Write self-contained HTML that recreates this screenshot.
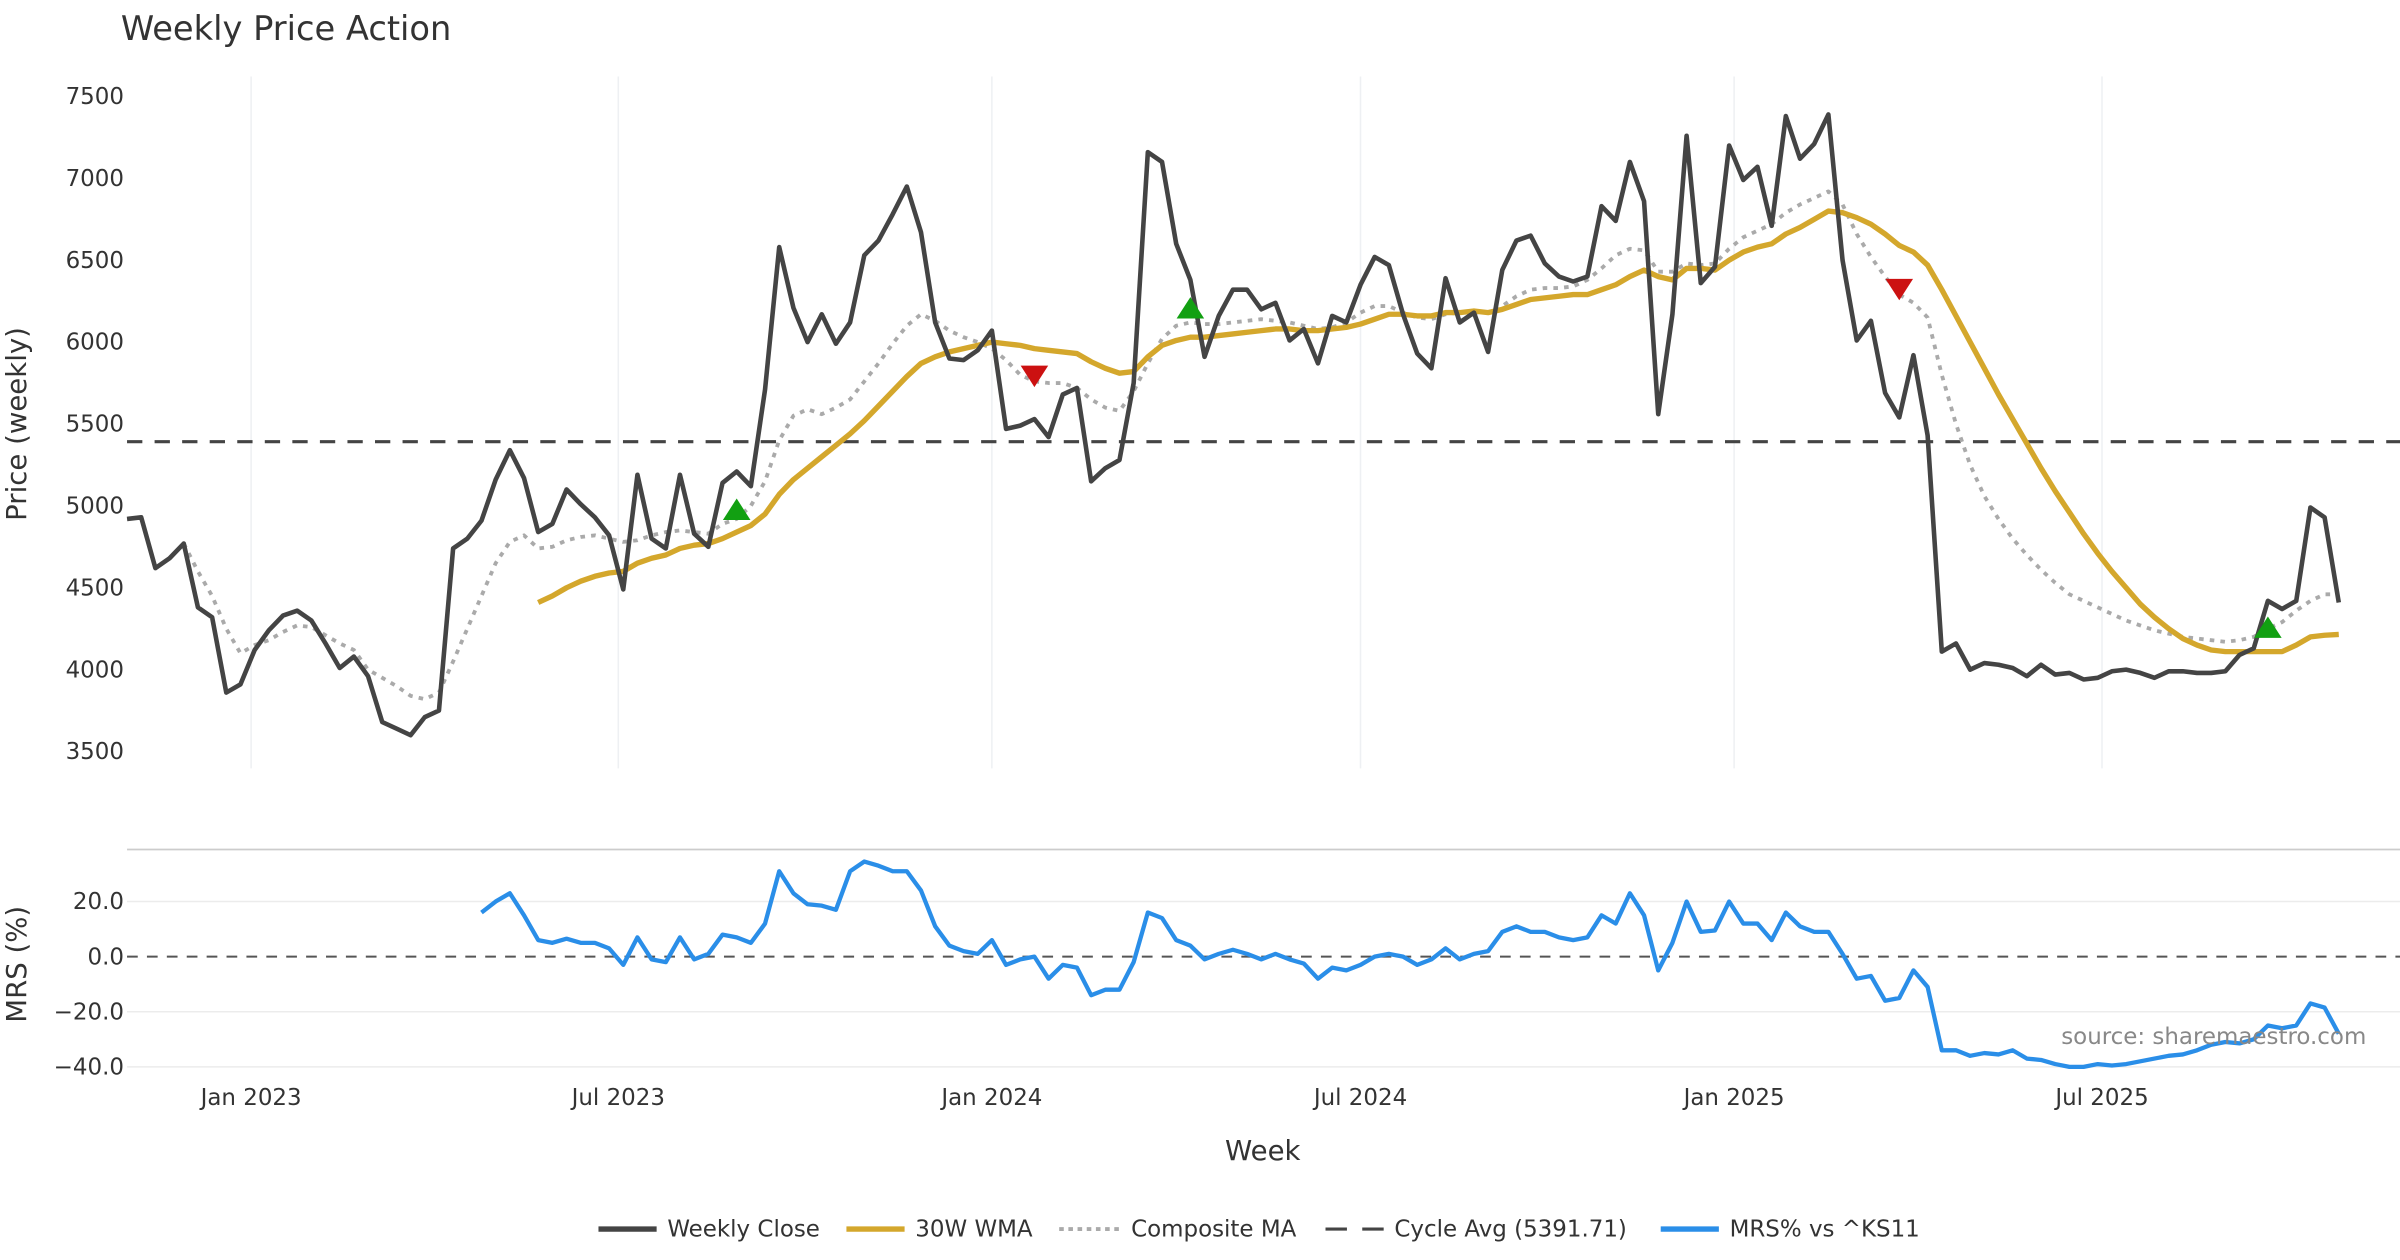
<!DOCTYPE html>
<html><head><meta charset="utf-8"><style>
html,body{margin:0;padding:0;background:#fff}
svg{display:block;font-family:"DejaVu Sans","Liberation Sans",sans-serif}
</style></head><body>
<svg id="chart" width="2400" height="1260" viewBox="0 0 1568 823.2" xmlns="http://www.w3.org/2000/svg">
<text x="79" y="26" font-size="22" fill="#333">Weekly Price Action</text>
<g id="grid"></g><g id="series"></g><g id="axes"></g>
<text transform="translate(17,277) rotate(-90)" text-anchor="middle" font-size="18" fill="#333">Price (weekly)</text>
<text transform="translate(17,630) rotate(-90)" text-anchor="middle" font-size="18" fill="#333">MRS (%)</text>
<text x="825" y="758" text-anchor="middle" font-size="18" fill="#333">Week</text>
<text x="1546" y="682" text-anchor="end" font-size="15" fill="#888">source: sharemaestro.com</text>
<g font-size="15" fill="#333">
<g><line x1="391" y1="803" x2="429" y2="803" stroke="#444" stroke-width="3.5"/><text x="436" y="808">Weekly Close</text></g>
<g><line x1="553" y1="803" x2="591" y2="803" stroke="#d4a72c" stroke-width="3.5"/><text x="598" y="808">30W WMA</text></g>
<g><line x1="692" y1="803" x2="731" y2="803" stroke="#aaa" stroke-width="2.5" stroke-dasharray="3,3"/><text x="739" y="808">Composite MA</text></g>
<g><line x1="866" y1="803" x2="904" y2="803" stroke="#444" stroke-width="2" stroke-dasharray="14,10"/><text x="911" y="808">Cycle Avg (5391.71)</text></g>
<g><line x1="1085" y1="803" x2="1123" y2="803" stroke="#2a8ee8" stroke-width="3.5"/><text x="1130" y="808">MRS% vs ^KS11</text></g>
</g>
</svg>
<script>
const closeVals=[4920,4930,4620,4680,4770,4380,4320,3860,3910,4120,4240,4330,4360,4300,4160,4010,4080,3960,3680,3640,3600,3710,3750,4740,4800,4910,5160,5340,5170,4840,4890,5100,5010,4930,4820,4490,5190,4800,4740,5190,4830,4750,5140,5210,5120,5710,6580,6210,6000,6170,5990,6120,6530,6620,6780,6950,6670,6120,5900,5890,5950,6070,5470,5490,5530,5420,5680,5720,5150,5230,5280,5750,7160,7100,6600,6380,5910,6160,6320,6320,6200,6240,6010,6080,5870,6160,6120,6350,6520,6470,6170,5930,5840,6390,6120,6180,5940,6440,6620,6650,6480,6400,6370,6400,6830,6740,7100,6860,5560,6170,7260,6360,6460,7200,6990,7070,6710,7380,7120,7210,7390,6500,6010,6130,5690,5540,5920,5430,4110,4160,4000,4040,4030,4010,3960,4030,3970,3980,3940,3950,3990,4000,3980,3950,3990,3990,3980,3980,3990,4090,4130,4420,4370,4420,4990,4930,4410];
const wmaStart=29;
const wmaVals=[4410,4450,4500,4540,4570,4590,4600,4650,4680,4700,4740,4760,4770,4800,4840,4880,4950,5070,5160,5230,5300,5370,5440,5520,5610,5700,5790,5870,5910,5940,5960,5980,6000,5990,5980,5960,5950,5940,5930,5880,5840,5810,5820,5910,5980,6010,6030,6030,6040,6050,6060,6070,6080,6080,6070,6070,6080,6090,6110,6140,6170,6170,6160,6160,6180,6180,6190,6180,6200,6230,6260,6270,6280,6290,6290,6320,6350,6400,6440,6400,6380,6450,6450,6440,6500,6550,6580,6600,6660,6700,6750,6800,6790,6760,6720,6660,6590,6550,6470,6320,6160,6000,5840,5680,5530,5380,5230,5090,4960,4830,4710,4600,4500,4400,4320,4250,4190,4150,4120,4110,4110,4110,4110,4110,4150,4200,4210,4215];
const compStart=4;
const compVals=[4770,4600,4450,4250,4100,4150,4180,4230,4270,4260,4210,4160,4120,4000,3950,3900,3840,3820,3860,4050,4250,4450,4650,4780,4820,4740,4750,4790,4810,4820,4800,4780,4790,4820,4840,4850,4840,4830,4890,4920,5000,5150,5400,5550,5590,5560,5600,5650,5760,5870,5990,6100,6170,6130,6070,6030,6000,5960,5890,5800,5760,5750,5750,5720,5650,5600,5580,5700,5870,6020,6100,6120,6110,6110,6120,6130,6140,6130,6120,6100,6080,6090,6120,6180,6220,6220,6180,6150,6140,6170,6180,6180,6180,6220,6280,6320,6330,6330,6340,6380,6450,6530,6570,6560,6430,6430,6480,6470,6480,6570,6640,6680,6720,6790,6840,6880,6920,6840,6660,6520,6400,6290,6240,6150,5800,5500,5250,5060,4920,4800,4700,4610,4530,4460,4420,4380,4340,4300,4270,4240,4220,4200,4190,4180,4170,4180,4200,4250,4290,4360,4420,4460,4460];
const mrsStart=25;
const mrsVals=[16,20,23,15,6,5,6.5,5,5,3,-3,7,-1,-2,7,-1,1,8,7,5,12,31,23,19,18.5,17,31,34.5,33,31,31,24,11,4,2,1,6,-3,-1,0,-8,-3,-4,-14,-12,-12,-2,16,14,6,4,-1,1,2.5,1,-1,1,-1,-2.5,-8,-4,-5,-3,0,1,0,-3,-1,3,-1,1,2,9,11,9,9,7,6,7,15,12,23,15,-5,5,20,9,9.5,20,12,12,6,16,11,9,9,1,-8,-7,-16,-15,-5,-11,-34,-34,-36,-35,-35.5,-34,-37,-37.5,-39,-40,-40,-39,-39.5,-39,-38,-37,-36,-35.5,-34,-32,-31,-31.5,-30,-25,-26,-25,-17,-18.5,-28];
const cycleAvg=5391.71;
const buyIdx=[43,75,151];const buyVals=[4970,6200,4250];
const sellIdx=[64,125];const sellVals=[5800,6330];
const priceTicks=[7500,7000,6500,6000,5500,5000,4500,4000,3500];
const mrsTicks=[20,0,-20,-40];
const dateTicks=["Jan 2023","Jul 2023","Jan 2024","Jul 2024","Jan 2025","Jul 2025"];
const dateTickWeeks=[8.75,34.65,61.0,87.0,113.35,139.3];

const NS="http://www.w3.org/2000/svg";
const X0=83,X1=1528,N=closeVals.length;
const xS=i=>X0+i*(X1-X0)/(N-1);
const yP=v=>63+(7500-v)*53.5/500;
const yM=v=>625-v*1.8;
function mk(tag,attrs,parent){const e=document.createElementNS(NS,tag);for(const k in attrs)e.setAttribute(k,attrs[k]);parent.appendChild(e);return e;}
const grid=document.getElementById('grid'),ser=document.getElementById('series'),ax=document.getElementById('axes');

dateTickWeeks.forEach((w,k)=>{
  const x=xS(w);
  const g=mk('line',{x1:x,y1:50,x2:x,y2:502,stroke:'#eef0f3','stroke-width':1},grid);
  
  
  const t=mk('text',{x:x,y:722,'text-anchor':'middle','font-size':15,fill:'#333'},ax);
  t.textContent=dateTicks[k];
  
  
});
priceTicks.forEach(v=>{
  const t=mk('text',{x:81,y:yP(v)+5,'text-anchor':'end','font-size':15,fill:'#333'},ax);
  t.textContent=v;
  
  
});
const sep=mk('line',{x1:83,y1:555,x2:1568,y2:555,stroke:'#ccc','stroke-width':1.2},grid);


mrsTicks.forEach(v=>{
  if(v!==0){const l=mk('line',{x1:83,y1:yM(v),x2:1568,y2:yM(v),stroke:'#ececec','stroke-width':1},grid);
  
  }
  const t=mk('text',{x:81,y:yM(v)+5,'text-anchor':'end','font-size':15,fill:'#333'},ax);
  t.textContent=(v<0?'\u2212'+Math.abs(v).toFixed(1):v.toFixed(1));
  
  
});
const zl=mk('line',{x1:83,y1:yM(0),x2:1568,y2:yM(0),stroke:'#555','stroke-width':1.3,'stroke-dasharray':'7,6'},grid);


const cl=mk('line',{x1:83,y1:yP(cycleAvg),x2:1568,y2:yP(cycleAvg),stroke:'#444','stroke-width':2,'stroke-dasharray':'10,8'},ser);



function path(vals,start,yf,style,name){
  const d=vals.map((v,i)=>(i?'L':'M')+xS(start+i).toFixed(2)+','+yf(v).toFixed(2)).join('');
  const p=mk('path',Object.assign({d:d,fill:'none','stroke-linejoin':'round'},style),ser);
  
  
}
path(compVals,compStart,yP,{stroke:'#aaa','stroke-width':2.5,'stroke-dasharray':'3,4'},'composite-ma-line');
path(wmaVals,wmaStart,yP,{stroke:'#d4a72c','stroke-width':3.5},'wma-30w-line');
path(closeVals,0,yP,{stroke:'#444','stroke-width':3},'weekly-close-line');
path(mrsVals,mrsStart,yM,{stroke:'#2a8ee8','stroke-width':2.8},'mrs-line');

buyIdx.forEach((i,k)=>{const x=xS(i),y=yP(buyVals[k]);
  const m=mk('polygon',{points:`${x-9},${y+6} ${x+9},${y+6} ${x},${y-8}`,fill:'#12a012'},ser);
  
  });
sellIdx.forEach((i,k)=>{const x=xS(i),y=yP(sellVals[k]);
  const m=mk('polygon',{points:`${x-9},${y-6} ${x+9},${y-6} ${x},${y+8}`,fill:'#cc1111'},ser);
  
  });
</script>
</body></html>
